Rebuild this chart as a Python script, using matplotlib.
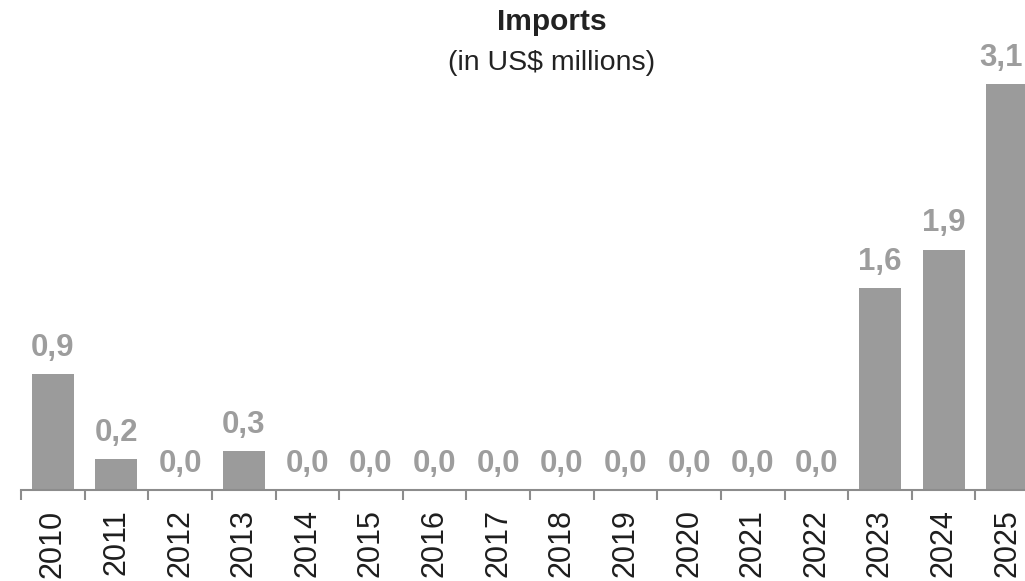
import matplotlib
matplotlib.use("Agg")
import matplotlib.pyplot as plt
import numpy as np

years = ["2010", "2011", "2012", "2013", "2014", "2015", "2016", "2017",
         "2018", "2019", "2020", "2021", "2022", "2023", "2024", "2025"]
imports = [0.90, 0.24, 0.0, 0.30, 0.0, 0.0, 0.0, 0.0,
           0.0, 0.0, 0.0, 0.0, 0.0, 1.56, 1.86, 3.14]
title = "Imports"
subtitle = "(in US$ millions)"

plt.rcParams['font.family'] = ['Liberation Sans', 'DejaVu Sans']

W, H = 1025, 581
fig = plt.figure(figsize=(W / 100, H / 100), dpi=100)
left = 21 / W
right = 1039 / W
bottom = (H - 490) / H
ax = fig.add_axes([left, bottom, right - left, 1 - bottom])
ax.patch.set_alpha(0)

bar_color = "#9b9b9b"
x = np.arange(len(years))
bars = ax.bar(x, imports, width=0.66, color=bar_color, zorder=2)

for xi, v in zip(x, imports):
    dx = -4.5 if xi == len(years) - 1 else 0  # keep last label inside the canvas
    ax.annotate(f"{v:.1f}".replace(".", ","), xy=(xi, v), xytext=(dx, 13),
                textcoords="offset points", ha="center", va="baseline",
                fontsize=22.5, fontweight="bold", color="#9d9d9d",
                annotation_clip=False)

ax.set_xlim(-0.5, len(years) - 0.5)
ax.set_ylim(0, 490 / 129.3)

for s in ["top", "right", "left"]:
    ax.spines[s].set_visible(False)
ax.spines["bottom"].set_color("#8c8c8c")
ax.spines["bottom"].set_linewidth(1.5)
ax.set_yticks([])

ax.set_xticks(x)
ax.set_xticklabels(years, rotation=90, fontsize=22, color="#1e1e1e")
ax.tick_params(axis="x", which="major", length=0, pad=14)
ax.set_xticks(np.arange(-0.5, len(years)), minor=True)
ax.tick_params(axis="x", which="minor", length=7, width=1.5, color="#8c8c8c")

fig.text(552 / W, 1 - 30 / H, title, ha="center", va="baseline",
         fontsize=21.5, fontweight="bold", color="#222222")
fig.text(552 / W, 1 - 70 / H, subtitle, ha="center", va="baseline",
         fontsize=20.5, color="#222222")

fig.savefig("out.png", dpi=100)
